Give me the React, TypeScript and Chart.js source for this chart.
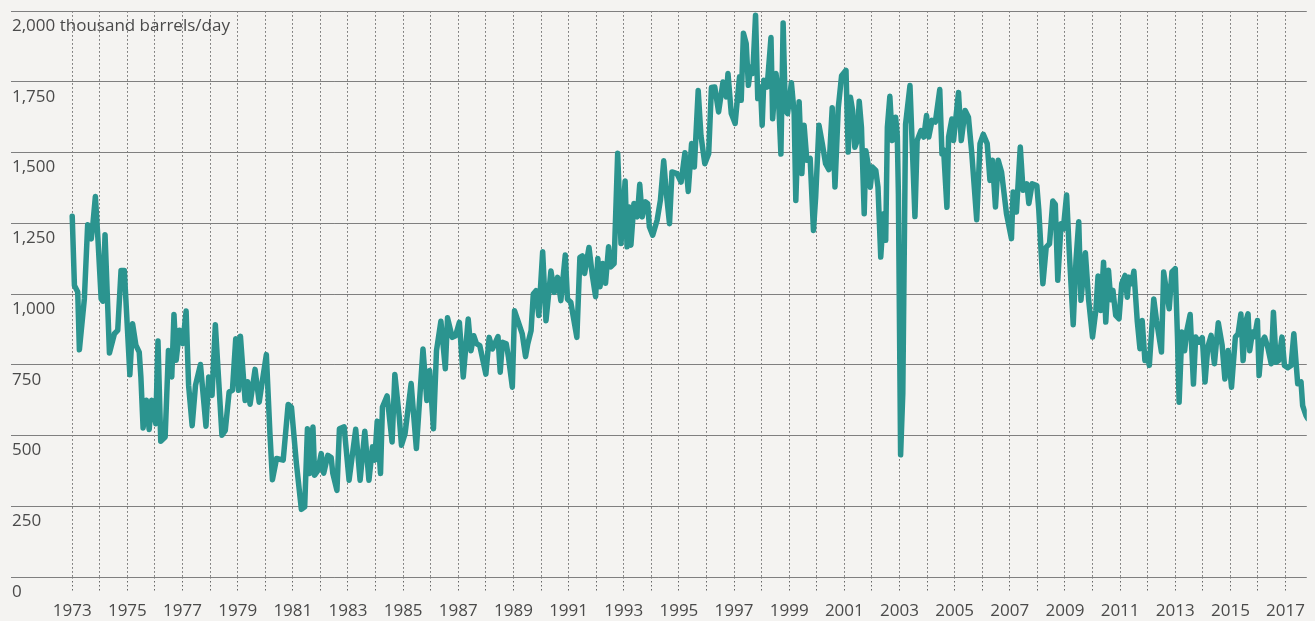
import { useEffect, useRef } from 'react';
import { Chart, registerables } from 'chart.js';

Chart.register(...registerables);

// Decimal year of each traced observation
const years: number[] = [
  1973.00, 1973.08, 1973.20, 1973.26, 1973.44, 1973.56, 1973.69, 1973.75, 1973.84, 1973.93,
  1974.05, 1974.11, 1974.19, 1974.35, 1974.53, 1974.65, 1974.77, 1974.89, 1975.09, 1975.19,
  1975.31, 1975.43, 1975.49, 1975.57, 1975.69, 1975.79, 1975.88, 1976.03, 1976.11, 1976.21,
  1976.37, 1976.49, 1976.61, 1976.69, 1976.77, 1976.89, 1977.01, 1977.13, 1977.22, 1977.35,
  1977.47, 1977.65, 1977.85, 1977.95, 1978.07, 1978.19, 1978.43, 1978.55, 1978.69, 1978.81,
  1978.93, 1979.03, 1979.10, 1979.27, 1979.36, 1979.45, 1979.63, 1979.78, 1979.89, 1980.04,
  1980.17, 1980.26, 1980.41, 1980.65, 1980.83, 1980.95, 1981.13, 1981.31, 1981.43, 1981.53,
  1981.61, 1981.73, 1981.79, 1981.91, 1982.03, 1982.12, 1982.27, 1982.39, 1982.45, 1982.60,
  1982.69, 1982.86, 1983.04, 1983.28, 1983.44, 1983.61, 1983.76, 1983.89, 1983.97, 1984.06,
  1984.18, 1984.25, 1984.42, 1984.60, 1984.70, 1984.86, 1984.94, 1985.07, 1985.29, 1985.48,
  1985.56, 1985.72, 1985.86, 1985.96, 1986.10, 1986.21, 1986.37, 1986.53, 1986.61, 1986.78,
  1986.90, 1987.04, 1987.18, 1987.36, 1987.46, 1987.56, 1987.66, 1987.78, 1988.00, 1988.12,
  1988.24, 1988.44, 1988.52, 1988.60, 1988.74, 1988.82, 1988.96, 1989.04, 1989.16, 1989.32,
  1989.44, 1989.52, 1989.64, 1989.72, 1989.82, 1989.92, 1990.06, 1990.18, 1990.36, 1990.48,
  1990.60, 1990.72, 1990.88, 1990.96, 1991.08, 1991.30, 1991.41, 1991.50, 1991.58, 1991.74,
  1991.86, 1991.98, 1992.06, 1992.14, 1992.24, 1992.34, 1992.45, 1992.53, 1992.65, 1992.78,
  1992.90, 1993.05, 1993.12, 1993.20, 1993.26, 1993.37, 1993.49, 1993.58, 1993.67, 1993.79,
  1993.87, 1993.93, 1994.05, 1994.21, 1994.33, 1994.45, 1994.54, 1994.66, 1994.75, 1994.93,
  1995.08, 1995.22, 1995.34, 1995.46, 1995.56, 1995.70, 1995.80, 1995.94, 1996.08, 1996.18,
  1996.30, 1996.44, 1996.60, 1996.72, 1996.78, 1996.90, 1997.04, 1997.14, 1997.20, 1997.26,
  1997.34, 1997.44, 1997.52, 1997.60, 1997.68, 1997.78, 1997.86, 1997.96, 1998.02, 1998.08,
  1998.20, 1998.34, 1998.40, 1998.52, 1998.60, 1998.70, 1998.78, 1998.86, 1998.94, 1999.08,
  1999.18, 1999.24, 1999.36, 1999.46, 1999.54, 1999.64, 1999.76, 1999.88, 1999.96, 2000.08,
  2000.20, 2000.32, 2000.44, 2000.56, 2000.66, 2000.78, 2000.90, 2001.06, 2001.14, 2001.22,
  2001.30, 2001.38, 2001.46, 2001.54, 2001.62, 2001.72, 2001.78, 2001.86, 2001.94, 2002.02,
  2002.14, 2002.22, 2002.32, 2002.42, 2002.50, 2002.56, 2002.65, 2002.74, 2002.86, 2002.92,
  2002.96, 2003.04, 2003.12, 2003.22, 2003.38, 2003.46, 2003.56, 2003.64, 2003.78, 2003.88,
  2003.98, 2004.06, 2004.18, 2004.30, 2004.46, 2004.54, 2004.60, 2004.72, 2004.78, 2004.90,
  2004.96, 2005.14, 2005.24, 2005.38, 2005.50, 2005.62, 2005.80, 2005.92, 2006.04, 2006.18,
  2006.28, 2006.37, 2006.48, 2006.58, 2006.70, 2006.88, 2007.06, 2007.12, 2007.24, 2007.38,
  2007.48, 2007.62, 2007.69, 2007.81, 2007.98, 2008.05, 2008.20, 2008.32, 2008.44, 2008.56,
  2008.65, 2008.74, 2008.86, 2008.94, 2009.06, 2009.16, 2009.30, 2009.40, 2009.50, 2009.58,
  2009.74, 2009.86, 2010.00, 2010.12, 2010.20, 2010.30, 2010.40, 2010.48, 2010.58, 2010.66,
  2010.74, 2010.84, 2010.96, 2011.06, 2011.18, 2011.26, 2011.32, 2011.42, 2011.50, 2011.62,
  2011.72, 2011.80, 2011.90, 2011.98, 2012.06, 2012.22, 2012.32, 2012.50, 2012.58, 2012.66,
  2012.78, 2012.88, 2013.00, 2013.08, 2013.14, 2013.24, 2013.34, 2013.42, 2013.54, 2013.66,
  2013.74, 2013.86, 2013.98, 2014.08, 2014.18, 2014.30, 2014.42, 2014.56, 2014.70, 2014.80,
  2014.92, 2015.04, 2015.18, 2015.28, 2015.38, 2015.46, 2015.55, 2015.64, 2015.70, 2015.80,
  2015.88, 2015.98, 2016.04, 2016.14, 2016.24, 2016.36, 2016.48, 2016.56, 2016.66, 2016.75,
  2016.87, 2016.96, 2017.08, 2017.20, 2017.30, 2017.44, 2017.56, 2017.62, 2017.74, 2017.80,
];

// Thousand barrels per day
const barrels: number[] = [
  1275, 1030, 1007, 803, 983, 1245, 1195, 1248, 1345, 1200,
  983, 975, 1210, 792, 860, 872, 1083, 1083, 715, 895,
  819, 795, 707, 527, 625, 521, 625, 542, 834, 480,
  495, 801, 707, 928, 766, 872, 825, 940, 678, 535,
  677, 751, 533, 707, 642, 892, 501, 518, 654, 660,
  842, 660, 851, 624, 690, 611, 734, 618, 690, 786,
  507, 344, 419, 413, 610, 600, 401, 239, 248, 524,
  366, 530, 360, 377, 436, 367, 430, 422, 366, 306,
  524, 531, 342, 522, 342, 515, 342, 460, 413, 551,
  366, 601, 640, 477, 716, 565, 466, 507, 684, 454,
  571, 806, 624, 730, 524, 800, 904, 736, 916, 847,
  853, 900, 707, 912, 800, 853, 825, 818, 717, 847,
  806, 850, 724, 830, 824, 777, 671, 941, 906, 859,
  779, 824, 871, 1000, 1012, 924, 1150, 906, 1082, 1006,
  1059, 977, 1138, 982, 971, 847, 1130, 1135, 1073, 1165,
  1067, 991, 1126, 1026, 1108, 1038, 1167, 1096, 1108, 1498,
  1179, 1400, 1167, 1308, 1173, 1320, 1273, 1388, 1273, 1326,
  1320, 1238, 1208, 1261, 1332, 1471, 1361, 1249, 1432, 1426,
  1396, 1500, 1363, 1532, 1449, 1720, 1560, 1461, 1496, 1730,
  1732, 1644, 1750, 1697, 1780, 1638, 1603, 1709, 1768, 1685,
  1922, 1886, 1738, 1803, 1780, 1986, 1691, 1732, 1597, 1756,
  1732, 1907, 1620, 1780, 1720, 1495, 1958, 1650, 1638, 1747,
  1640, 1331, 1680, 1426, 1597, 1473, 1480, 1225, 1343, 1597,
  1532, 1461, 1440, 1659, 1379, 1659, 1772, 1791, 1502, 1696,
  1649, 1519, 1540, 1682, 1590, 1284, 1507, 1460, 1378, 1449,
  1437, 1378, 1131, 1284, 1190, 1590, 1699, 1543, 1625, 1560,
  1354, 432, 650, 1600, 1737, 1531, 1274, 1543, 1578, 1555,
  1631, 1555, 1614, 1608, 1723, 1496, 1510, 1307, 1555, 1619,
  1543, 1713, 1543, 1649, 1625, 1500, 1263, 1532, 1565, 1532,
  1402, 1473, 1308, 1473, 1432, 1284, 1196, 1361, 1290, 1520,
  1367, 1390, 1320, 1390, 1384, 1300, 1037, 1166, 1178, 1329,
  1317, 1049, 1249, 1230, 1350, 1143, 892, 1119, 1256, 978,
  1146, 978, 848, 942, 1064, 942, 1113, 901, 1084, 980,
  1013, 925, 913, 1037, 1066, 989, 1060, 1037, 1081, 907,
  807, 907, 765, 790, 748, 983, 907, 795, 1078, 1025,
  948, 1078, 1090, 850, 618, 866, 800, 871, 928, 682,
  848, 830, 846, 689, 813, 854, 754, 899, 819, 700,
  801, 671, 848, 860, 930, 765, 901, 930, 800, 866,
  850, 907, 712, 830, 848, 810, 754, 936, 759, 765,
  848, 748, 740, 748, 860, 683, 690, 606, 571, 560,
];

const yTickValues: number[] = [0, 250, 500, 750, 1000, 1250, 1500, 1750, 2000];
const yUnitLabel = '2,000 thousand barrels/day';
const xLabelYears: number[] = [
  1973, 1975, 1977, 1979, 1981, 1983, 1985, 1987, 1989, 1991, 1993, 1995,
  1997, 1999, 2001, 2003, 2005, 2007, 2009, 2011, 2013, 2015, 2017,
];
const firstGridYear = 1973;
const lastGridYear = 2017;

const FONT = '"Open Sans", Lato, sans-serif';

export default function App() {
  const canvasRef = useRef<HTMLCanvasElement | null>(null);

  useEffect(() => {
    if (!canvasRef.current) return;
    const gridYears = Array.from(
      { length: lastGridYear - firstGridYear + 1 },
      (_, i) => firstGridYear + i
    );
    const points = years.map((x, i) => ({ x, y: barrels[i] }));
    const chart = new Chart(canvasRef.current, {
      type: 'line',
      data: {
        datasets: [
          {
            data: points,
            borderColor: '#2b948f',
            borderWidth: 5.5,
            pointRadius: 0,
            tension: 0,
            borderJoinStyle: 'round',
            borderCapStyle: 'round',
            fill: false,
          },
        ],
      },
      options: {
        animation: false,
        responsive: false,
        devicePixelRatio: 1,
        layout: { padding: { left: 11, top: 11, right: 0, bottom: 0 } },
        plugins: { legend: { display: false }, tooltip: { enabled: false } },
        scales: {
          x: {
            type: 'linear',
            min: 1970.78,
            max: 2017.77,
            afterBuildTicks: (s: any) => {
              s.ticks = gridYears.map((v) => ({ value: v }));
            },
            afterFit: (s: any) => {
              s.height = 44;
            },
            grid: {
              color: '#666666',
              lineWidth: 1,
              drawTicks: true,
              tickLength: 14,
              tickColor: '#666666',
              tickWidth: 1,
              tickBorderDash: [1.5, 2.5],
            },
            border: { display: false, dash: [1.5, 2.5] },
            ticks: {
              autoSkip: false,
              maxRotation: 0,
              minRotation: 0,
              padding: 10,
              color: '#4a4a4a',
              font: { family: FONT, size: 17 },
              callback: (v: any) => (xLabelYears.includes(Number(v)) ? String(v) : ''),
            },
          },
          y: {
            min: 0,
            max: 2000,
            afterBuildTicks: (s: any) => {
              s.ticks = yTickValues.map((v) => ({ value: v }));
            },
            afterFit: (s: any) => {
              s.width = 0;
            },
            grid: { color: '#7f7f7f', lineWidth: 1, drawTicks: false },
            border: { display: false },
            ticks: {
              mirror: true,
              padding: 1,
              labelOffset: 15,
              autoSkip: false,
              color: '#4a4a4a',
              font: { family: FONT, size: 17 },
              callback: (v: any) =>
                Number(v) === 2000 ? yUnitLabel : Number(v).toLocaleString('en-US'),
            },
          },
        },
      },
    });
    return () => chart.destroy();
  }, []);

  return (
    <div
      style={{
        position: 'fixed',
        left: 0,
        top: 0,
        width: 1315,
        height: 621,
        background: '#f4f3f1',
        overflow: 'hidden',
      }}
    >
      <canvas ref={canvasRef} width={1315} height={621} style={{ display: 'block' }} />
    </div>
  );
}
